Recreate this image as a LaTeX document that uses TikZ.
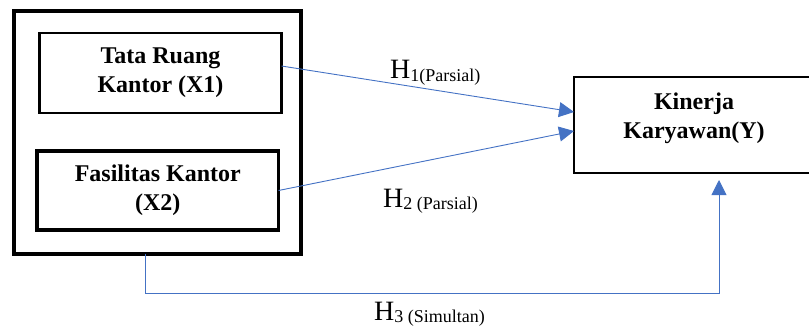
\documentclass[tikz,border=0pt]{standalone}
\usepackage{fontspec}
\setmainfont{Liberation Serif}
\usetikzlibrary{arrows.meta}
\definecolor{linkblue}{HTML}{4472C4}
\begin{document}
\begin{tikzpicture}[x=1pt, y=-1pt,
    box/.style={draw, rectangle, inner sep=0pt, outer sep=0pt, align=center,
        font=\fontsize{24}{29}\selectfont\bfseries},
    link/.style={linkblue, line width=0.9pt, -{Triangle[length=15pt,width=15pt]}},
    hlabel/.style={inner sep=0pt, anchor=base west}]
    \useasboundingbox (0,0) rectangle (809,329);

    % Draw nodes
    \node[box, line width=4pt, minimum width=287pt, minimum height=243pt] (outer) at (157.5,132.5) {};
    \node[box, line width=2.5pt, minimum width=242pt, minimum height=80pt] (x1) at (160.5,73) {Tata Ruang\\Kantor (X1)};
    \node[box, line width=3.5pt, minimum width=241.5pt, minimum height=79pt] (x2) at (157.75,190.5) {Fasilitas Kantor\\(X2)};
    \node[box, line width=2.8pt, minimum width=240pt, minimum height=96pt] (y) at (694,125) {};
    \node[box, draw=none] (ytext) at (694,118) {Kinerja\\Karyawan(Y)};

    % Draw labels
    \node[hlabel] (h1) at (390,78) {\fontsize{28}{30}\selectfont H\raisebox{-3pt}{\fontsize{18}{20}\selectfont 1(Parsial)}};
    \node[hlabel] (h2) at (383,207) {\fontsize{28}{30}\selectfont H\raisebox{-2pt}{\fontsize{18}{20}\selectfont 2 (Parsial)}};
    \node[hlabel] (h3) at (374,320) {\fontsize{28}{30}\selectfont H\raisebox{-2pt}{\fontsize{18}{20}\selectfont 3 (Simultan)}};

    % Draw directed edges
    \draw[link] ([yshift=7pt]x1.east) -- ([yshift=13pt]y.west); % X1 to Y
    \draw[link] (x2.east) -- ([yshift=-6pt]y.west); % X2 to Y
    \draw[link] ([xshift=-12.5pt]outer.south) -- ++(0,39) -| ([xshift=25pt,yshift=-7pt]y.south); % X1, X2 to Y
\end{tikzpicture}
\end{document}
